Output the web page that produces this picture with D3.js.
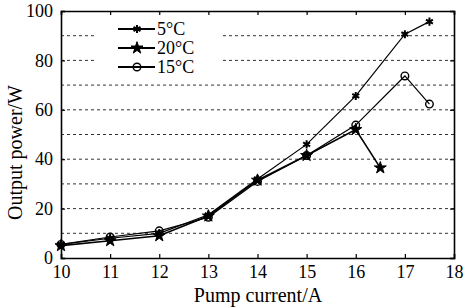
<!DOCTYPE html>
<html><head><meta charset="utf-8">
<script src="https://cdn.jsdelivr.net/npm/d3@7"></script>
<style>
body{margin:0;background:#fff;}
text{font-family:"Liberation Serif","Times New Roman",serif;fill:#000;}
</style></head>
<body><svg id="c" width="464" height="307"></svg>
<script>
const xTicks=[10,11,12,13,14,15,16,17,18];
const yTicks=[0,20,40,60,80,100];
const gridVals=[10,20,30,40,50,60,70,80,90];
const seriesNames=["5°C","20°C","15°C"];
const x5=[10,11,12,13,14,15,16,17,17.5];
const y5=[5.5,8,10,17.5,32,46,65.6,90.6,95.7];
const x20=[10,11,12,13,14,15,16,16.5];
const y20=[5,7,9,17,31.5,41.5,52,36.5];
const x15=[10,11,12,13,14,15,16,17,17.5];
const y15=[5.5,8.5,11,16.5,31,41.5,53.8,73.7,62.3];

const svg=d3.select("#c");
const L=61,R=454,T=11,B=258;
const x=d3.scaleLinear().domain([10,18]).range([L,R]);
const y=d3.scaleLinear().domain([0,100]).range([B,T]);

// grid
svg.append("g").selectAll("line").data(gridVals).join("line")
 .attr("x1",L).attr("x2",R).attr("y1",d=>y(d)).attr("y2",d=>y(d))
 .attr("stroke","#333").attr("stroke-width",1).attr("stroke-dasharray","3,3");

// legend background
const lg=svg.append("g");
lg.append("rect").attr("x",97).attr("y",14).attr("width",124).attr("height",67).attr("fill","#fff");

// axes
const ax=svg.append("g");
ax.append("g").attr("transform",`translate(0,${B})`)
 .call(d3.axisBottom(x).tickValues(xTicks).tickSize(-4).tickPadding(7).tickFormat(d3.format("d")));
ax.append("g").attr("transform",`translate(0,${T})`)
 .call(d3.axisTop(x).tickValues(xTicks).tickSize(-4).tickFormat(""));
ax.append("g").attr("transform",`translate(${L},0)`)
 .call(d3.axisLeft(y).tickValues(yTicks).tickSize(-4).tickPadding(8).tickFormat(d3.format("d")));
ax.append("g").attr("transform",`translate(${R},0)`)
 .call(d3.axisRight(y).tickValues(yTicks).tickSize(-4).tickFormat(""));
ax.selectAll(".domain").attr("stroke","#000").attr("stroke-width",1.6);
ax.selectAll(".tick line").attr("stroke","#000").attr("stroke-width",1.2);
ax.selectAll(".tick text").attr("font-size",18).attr("font-family","Liberation Serif");

const line=d3.line().x(d=>x(d[0])).y(d=>y(d[1]));
const zip=(a,b)=>a.map((v,i)=>[v,b[i]]);
const data=[zip(x5,y5),zip(x20,y20),zip(x15,y15)];
const widths=[1.2,1.6,1.2];

function marker(g,type){
  if(type===0){
    g.append("path").attr("d",d3.symbol(d3.symbolAsterisk,45)()).attr("stroke","#000").attr("stroke-width",2).attr("fill","none");
  } else if(type===1){
    g.append("path").attr("d",d3.symbol(d3.symbolStar,45)()).attr("fill","#000").attr("stroke","#000").attr("stroke-width",1);
  } else {
    g.append("circle").attr("r",3.8).attr("fill","none").attr("stroke","#000").attr("stroke-width",1.4);
  }
}

data.forEach((s,i)=>{
  svg.append("path").datum(s).attr("d",line).attr("fill","none").attr("stroke","#000").attr("stroke-width",widths[i]);
  s.forEach(p=>{
    const g=svg.append("g").attr("transform",`translate(${x(p[0])},${y(p[1])})`);
    marker(g,i);
  });
});

// legend entries
const ly=[29,48,67];
seriesNames.forEach((n,i)=>{
  lg.append("line").attr("x1",118).attr("x2",155).attr("y1",ly[i]).attr("y2",ly[i]).attr("stroke","#000").attr("stroke-width",2);
  const g=lg.append("g").attr("transform",`translate(137,${ly[i]})`);
  marker(g,i);
  lg.append("text").attr("x",157).attr("y",ly[i]+6).attr("font-size",18).text(n);
});

svg.append("text").attr("x",258).attr("y",302).attr("text-anchor","middle").attr("font-size",20).text("Pump current/A");
svg.append("text").attr("transform",`translate(22,${(T+B)/2+18}) rotate(-90)`).attr("text-anchor","middle").attr("font-size",20).text("Output power/W");
</script></body></html>
